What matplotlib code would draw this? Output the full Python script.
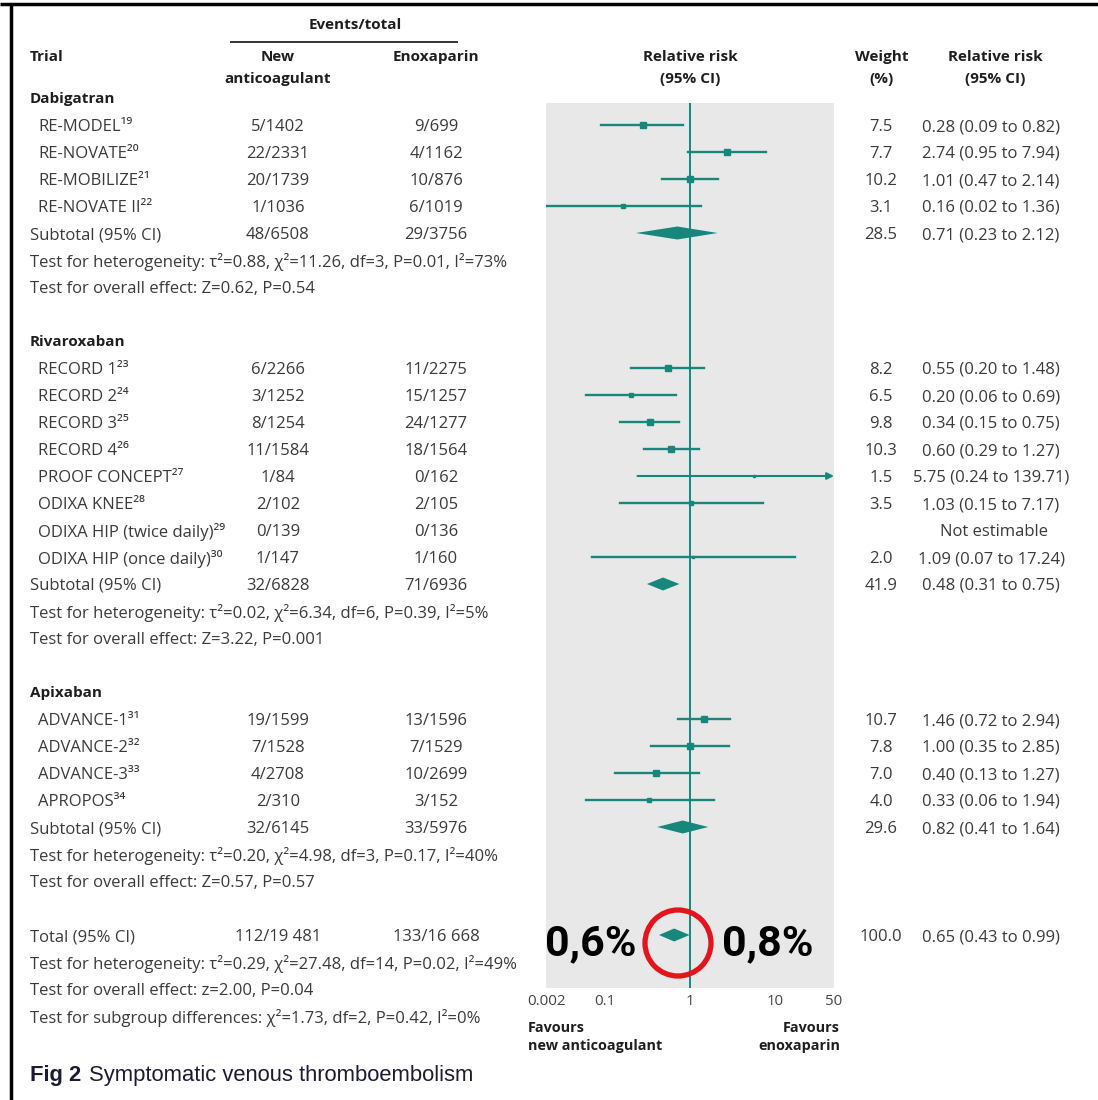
import matplotlib
matplotlib.use("Agg")
import matplotlib.pyplot as plt
from matplotlib.patches import Circle

plt.rcParams["font.family"] = ["Open Sans", "DejaVu Sans"]

# per-trial data, grouped by drug
drug = ["Dabigatran"] * 4 + ["Rivaroxaban"] * 8 + ["Apixaban"] * 4
trials = ["RE-MODEL¹⁹", "RE-NOVATE²⁰", "RE-MOBILIZE²¹", "RE-NOVATE II²²",
          "RECORD 1²³", "RECORD 2²⁴", "RECORD 3²⁵", "RECORD 4²⁶",
          "PROOF CONCEPT²⁷", "ODIXA KNEE²⁸", "ODIXA HIP (twice daily)²⁹",
          "ODIXA HIP (once daily)³⁰",
          "ADVANCE-1³¹", "ADVANCE-2³²", "ADVANCE-3³³", "APROPOS³⁴"]
new_events = ["5/1402", "22/2331", "20/1739", "1/1036",
              "6/2266", "3/1252", "8/1254", "11/1584", "1/84", "2/102",
              "0/139", "1/147",
              "19/1599", "7/1528", "4/2708", "2/310"]
enox_events = ["9/699", "4/1162", "10/876", "6/1019",
               "11/2275", "15/1257", "24/1277", "18/1564", "0/162", "2/105",
               "0/136", "1/160",
               "13/1596", "7/1529", "10/2699", "3/152"]
weight = [7.5, 7.7, 10.2, 3.1, 8.2, 6.5, 9.8, 10.3, 1.5, 3.5, None, 2.0,
          10.7, 7.8, 7.0, 4.0]
rr = [0.28, 2.74, 1.01, 0.16, 0.55, 0.20, 0.34, 0.60, 5.75, 1.03, None, 1.09,
      1.46, 1.00, 0.40, 0.33]
rr_lo = [0.09, 0.95, 0.47, 0.02, 0.20, 0.06, 0.15, 0.29, 0.24, 0.15, None,
         0.07, 0.72, 0.35, 0.13, 0.06]
rr_hi = [0.82, 7.94, 2.14, 1.36, 1.48, 0.69, 0.75, 1.27, 139.71, 7.17, None,
         17.24, 2.94, 2.85, 1.27, 1.94]

# subtotals
groups = ["Dabigatran", "Rivaroxaban", "Apixaban"]
sub_new = ["48/6508", "32/6828", "32/6145"]
sub_enox = ["29/3756", "71/6936", "33/5976"]
sub_weight = [28.5, 41.9, 29.6]
sub_rr = [0.71, 0.48, 0.82]
sub_lo = [0.23, 0.31, 0.41]
sub_hi = [2.12, 0.75, 1.64]
sub_het = ["τ²=0.88, χ²=11.26, df=3, P=0.01, I²=73%",
           "τ²=0.02, χ²=6.34, df=6, P=0.39, I²=5%",
           "τ²=0.20, χ²=4.98, df=3, P=0.17, I²=40%"]
sub_overall = ["Z=0.62, P=0.54", "Z=3.22, P=0.001", "Z=0.57, P=0.57"]

# pooled total
tot_new, tot_enox = "112/19 481", "133/16 668"
tot_weight, tot_rr, tot_lo, tot_hi = 100.0, 0.65, 0.43, 0.99
tot_het = "τ²=0.29, χ²=27.48, df=14, P=0.02, I²=49%"
tot_overall = "z=2.00, P=0.04"
tot_subgroup = "χ²=1.73, df=2, P=0.42, I²=0%"

# event rates written next to the pooled diamond
rate_new, rate_enox = "0,6%", "0,8%"

x_ticks = [0.02, 0.1, 1, 10, 50]
x_ticklabels = ["0.002", "0.1", "1", "10", "50"]

TEAL = "#17877c"
TXT = "#3a3a3a"
HDR = "#1e1e1e"
FS = 12.0
FSB = 11.0

W, H = 1098, 1100
fig = plt.figure(figsize=(W / 100, H / 100), dpi=100)

# forest panel (vertical units = pixel rows of the table)
y0, y1 = 103, 988
ax = fig.add_axes([546 / W, 1 - y1 / H, (834 - 546) / W, (y1 - y0) / H])
ax.set_xscale("log")
ax.set_xlim(0.02, 50)
ax.set_ylim(y1, y0)
ax.set_facecolor("#e8e8e8")
for s in ax.spines.values():
    s.set_visible(False)
ax.set_yticks([])
ax.set_xticks(x_ticks)
ax.set_xticklabels(x_ticklabels, fontsize=10.8, color="#444444")
ax.minorticks_off()
ax.tick_params(axis="x", length=0, pad=4)
ax.axvline(1, color=TEAL, lw=1.4, zorder=2)

# transparent overlay for all table text, in pixel coordinates
bg = fig.add_axes([0, 0, 1, 1])
bg.set_xlim(0, W)
bg.set_ylim(H, 0)
bg.axis("off")
bg.patch.set_visible(False)
bg.set_zorder(5)


def row_y(k):
    return 98 + 27 * k


def put(x, k, s, **kw):
    kw.setdefault("fontsize", FS)
    kw.setdefault("color", TXT)
    kw.setdefault("va", "center_baseline")
    bg.text(x, row_y(k), s, **kw)


def stats(k, w, r, lo, hi):
    put(881, k, f"{w:.1f}", ha="center")
    put(991, k, f"{r:.2f} ({lo:.2f} to {hi:.2f})", ha="center")


def diamond(k, r, lo, hi):
    y = row_y(k)
    ax.fill([lo, r, hi, r], [y, y - 6.5, y, y + 6.5], color=TEAL, lw=0,
            zorder=3)


# header
bg.text(355, 25, "Events/total", ha="center", va="center", fontsize=FSB,
        fontweight="bold", color=HDR)
bg.plot([231, 457], [42, 42], color="#333333", lw=1.4)
bg.text(30, 57, "Trial", va="center", fontsize=FSB, fontweight="bold",
        color=HDR)
for x, s in [(278, "New\nanticoagulant"), (436, "Enoxaparin"),
             (690, "Relative risk\n(95% CI)"), (882, "Weight\n(%)"),
             (995, "Relative risk\n(95% CI)")]:
    bg.text(x, 50, s, ha="center", va="top", fontsize=FSB,
            fontweight="bold", color=HDR, linespacing=1.75)

k = 0
for g, name in enumerate(groups):
    put(30, k, name, fontweight="bold", color=HDR, fontsize=FSB)
    k += 1
    for i in [j for j, d in enumerate(drug) if d == name]:
        put(38, k, trials[i])
        put(278, k, new_events[i], ha="center")
        put(436, k, enox_events[i], ha="center")
        if rr[i] is None:
            put(994, k, "Not estimable", ha="center")
        else:
            stats(k, weight[i], rr[i], rr_lo[i], rr_hi[i])
            y = row_y(k)
            xmax = ax.get_xlim()[1]
            if rr_hi[i] > xmax:
                ax.annotate("", xy=(xmax, y), xytext=(rr_lo[i], y),
                            arrowprops=dict(arrowstyle="-|>", color=TEAL,
                                            lw=1.5, mutation_scale=10,
                                            shrinkA=0, shrinkB=0))
            else:
                ax.plot([rr_lo[i], rr_hi[i]], [y, y], color=TEAL, lw=1.7,
                        zorder=3)
            ax.plot(rr[i], y, "s", color=TEAL, ms=1.4 * weight[i] ** 0.5,
                    mec=TEAL, zorder=4)
        k += 1
    put(30, k, "Subtotal (95% CI)")
    put(278, k, sub_new[g], ha="center")
    put(436, k, sub_enox[g], ha="center")
    stats(k, sub_weight[g], sub_rr[g], sub_lo[g], sub_hi[g])
    diamond(k, sub_rr[g], sub_lo[g], sub_hi[g])
    put(30, k + 1, "Test for heterogeneity: " + sub_het[g])
    put(30, k + 2, "Test for overall effect: " + sub_overall[g])
    k += 4

put(30, k, "Total (95% CI)")
put(278, k, tot_new, ha="center")
put(436, k, tot_enox, ha="center")
stats(k, tot_weight, tot_rr, tot_lo, tot_hi)
diamond(k, tot_rr, tot_lo, tot_hi)
put(30, k + 1, "Test for heterogeneity: " + tot_het)
put(30, k + 2, "Test for overall effect: " + tot_overall)
put(30, k + 3, "Test for subgroup differences: " + tot_subgroup)

# pooled event rates and highlight ring
ty = row_y(k) + 4
bg.text(591, ty, rate_new, ha="center", va="center_baseline", fontsize=31,
        fontweight="bold", family="Roboto", color="black")
bg.text(768, ty, rate_enox, ha="center", va="center_baseline", fontsize=31,
        fontweight="bold", family="Roboto", color="black")
bg.add_patch(Circle((678, 943), 33, fill=False, ec="#e3141b", lw=3.8))

# axis captions
bg.text(528, 1037, "Favours\nnew anticoagulant", ha="left", va="center",
        fontsize=FSB - 0.6, fontweight="bold", color=HDR, linespacing=1.35)
bg.text(840, 1037, "Favours\nenoxaparin", ha="right", va="center",
        fontsize=FSB - 0.6, fontweight="bold", color=HDR, linespacing=1.35)
bg.text(30, 1076, "Fig 2", fontsize=15.8, fontweight="bold",
        family="Liberation Sans", color="#1b1b33", va="center")
bg.text(89, 1076, "Symptomatic venous thromboembolism", fontsize=15.8,
        family="Liberation Sans", color="#1b1b33", va="center")

# frame
bg.plot([0, W], [4, 4], color="black", lw=2.5, solid_capstyle="butt")
bg.plot([11, 11], [4, H], color="black", lw=2.5, solid_capstyle="butt")

fig.savefig("out.png", dpi=100, facecolor="white")
